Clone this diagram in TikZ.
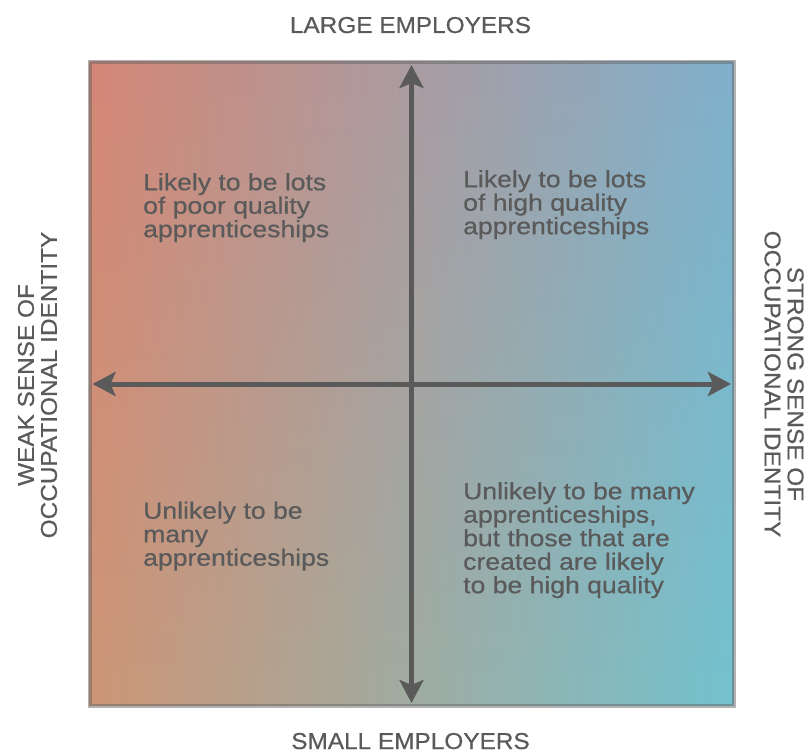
\documentclass[tikz,border=0pt]{standalone}
\usepackage{fontspec}
\setmainfont{Liberation Sans}[FakeStretch=1.13, FakeBold=0.5]
\newfontfamily\axisfont{Liberation Sans}[FakeStretch=1.06, FakeBold=0.6]
\usetikzlibrary{arrows.meta,fadings}

\definecolor{ink}{HTML}{5A5A5A}
\definecolor{cornerTL}{RGB}{213,135,118}
\definecolor{cornerTR}{RGB}{128,176,204}
\definecolor{cornerBL}{RGB}{205,150,118}
\definecolor{cornerBR}{RGB}{115,195,207}

\tikzset{
  quadtext/.style={font=\fontsize{23.5}{23.5}\selectfont, text=ink,
    align=left, anchor=north west, inner sep=0pt},
  axislabel/.style={font=\axisfont\fontsize{23}{23}\selectfont, text=ink,
    align=center, inner sep=0pt},
  axisline/.style={draw=ink, line width=5pt,
    -{Stealth[length=23pt,width=24pt,inset=5pt]}},
}

\begin{document}
\begin{tikzpicture}[x=1pt,y=-1pt]
\useasboundingbox (0,0) rectangle (810,754);

% framed square with a four-corner colour blend
% (the y axis points down here, so the fading opaque side lands at the bottom)
\coordinate (nw) at (89.5,62);
\coordinate (se) at (733.5,705.8);
\shade[left color=cornerTL, right color=cornerTR] (nw) rectangle (se);
\shade[left color=cornerBL, right color=cornerBR, path fading=north] (nw) rectangle (se);
\draw[line width=4pt, black!60, opacity=0.5] (nw) rectangle (se);

% axes
\coordinate (centre) at (411.5,384);
\coordinate (topTip) at (411.5,65);
\coordinate (bottomTip) at (411.5,703);
\coordinate (leftTip) at (92.5,384);
\coordinate (rightTip) at (731,384);
\draw[axisline] (centre) -- (topTip);
\draw[axisline] (centre) -- (bottomTip);
\draw[axisline] (centre) -- (leftTip);
\draw[axisline] (centre) -- (rightTip);

% axis labels
\node[axislabel, anchor=base] (large) at (410.5,33) {LARGE EMPLOYERS};
\node[axislabel, anchor=base] (small) at (410.5,749) {SMALL EMPLOYERS};
\node[axislabel, rotate=90] (weak) at (37.5,385)
  {WEAK SENSE OF\\OCCUPATIONAL IDENTITY};
\node[axislabel, rotate=-90] (strong) at (784,384)
  {STRONG SENSE OF\\OCCUPATIONAL IDENTITY};

% quadrant texts
\node[quadtext] (qTL) at (143,173)
  {Likely to be lots\\of poor quality\\apprenticeships};
\node[quadtext] (qTR) at (463,170)
  {Likely to be lots\\of high quality\\apprenticeships};
\node[quadtext] (qBL) at (143,501.5)
  {Unlikely to be\\many\\apprenticeships};
\node[quadtext] (qBR) at (463,482)
  {Unlikely to be many\\apprenticeships,\\but those that are\\created are likely\\to be high quality};
\end{tikzpicture}
\end{document}
